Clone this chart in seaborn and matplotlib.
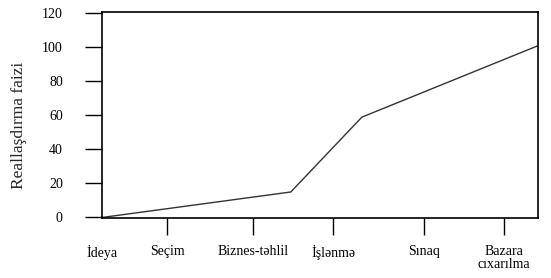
import matplotlib
matplotlib.use("Agg")
import matplotlib.pyplot as plt
import seaborn as sns
import pandas as pd

# Stages of product development (x-axis labels) and their positions on a 0-100 timeline
stages = ["İdeya", "Seçim", "Biznes-təhlil", "İşlənmə", "Sınaq", "Bazara\ncıxarılma"]
stage_pos = [0, 14.9, 34.6, 53.0, 73.9, 92.2]

# Realisation curve (timeline position, percent)
curve_x = [0, 43.3, 59.6, 100]
curve_y = [0, 15, 59, 101]

y_ticks = [0, 20, 40, 60, 80, 100, 120]

sns.set_style("white")
plt.rcParams['font.family'] = ['Liberation Serif', 'DejaVu Serif']

fig = plt.figure(figsize=(5.51, 2.78), dpi=100)
ax = fig.add_axes([102/551, 1 - 218/278, (538-102)/551, (218-11.7)/278])

df = pd.DataFrame({"x": curve_x, "y": curve_y})
sns.lineplot(data=df, x="x", y="y", ax=ax, color="#333333", linewidth=1.0)

ax.set_xlim(0, 100)
ax.set_ylim(-0.3, 121)
ax.set_yticks(y_ticks)
ax.set_yticklabels([str(v) for v in y_ticks], fontsize=10)
ax.set_xticks(stage_pos)
ax.set_xticklabels(stages, fontsize=10, linespacing=1.05)
ax.set_xlabel("")
ax.set_ylabel("Reallaşdırma faizi", fontsize=12.5)
ax.yaxis.set_label_coords(-0.172, 0.45)

ax.tick_params(axis="y", direction="out", length=12.2, width=1.0, color="black",
               left=True, labelcolor="black", pad=16)
ax.tick_params(axis="x", direction="out", length=12.2, width=1.0, color="black",
               bottom=True, labelcolor="black", pad=7)
ax.xaxis.get_major_ticks()[0].tick1line.set_visible(False)

for s in ax.spines.values():
    s.set_visible(True)
    s.set_color("black")
    s.set_linewidth(1.2)

fig.savefig("out.png", dpi=100)
